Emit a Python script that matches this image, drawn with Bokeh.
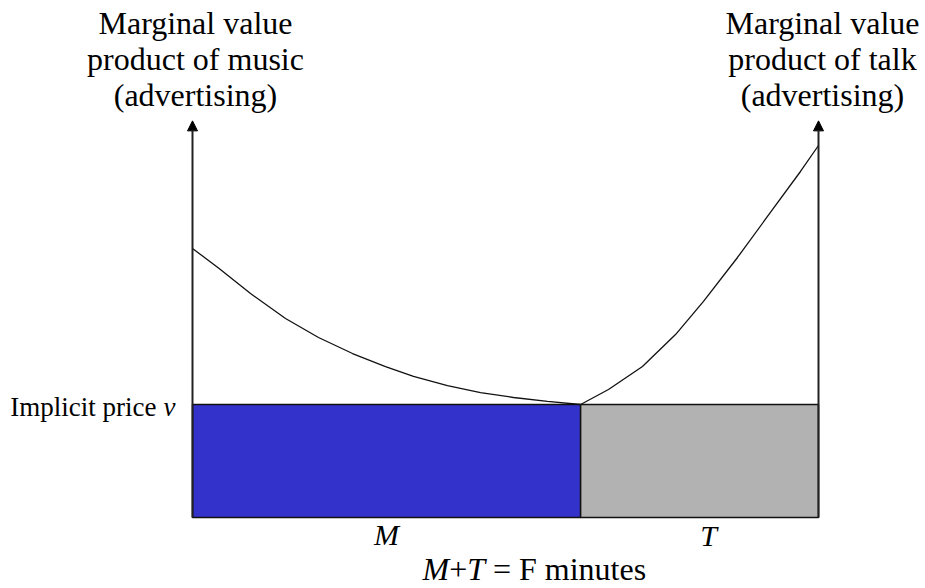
from bokeh.plotting import figure
from bokeh.models import Range1d, Arrow, NormalHead, Label
from bokeh.embed import file_html
from bokeh.resources import INLINE

# ---- data (abstract units: minutes on x, value on y) ----
F_TOTAL = 10.0          # M + T = F minutes
M_MUSIC = 6.2           # minutes of music
V_PRICE = 1.0           # implicit price v
AXIS_TOP = 3.51         # height of the value axes

music_x = [0.0, 0.415, 0.927, 1.486, 2.013, 2.556, 3.083, 3.530, 4.073, 4.601, 5.128, 5.671, 6.2]
music_y = [2.381, 2.208, 1.982, 1.761, 1.593, 1.451, 1.336, 1.248, 1.168, 1.106, 1.062, 1.027, 1.0]

talk_x = [6.2, 6.645, 7.188, 7.716, 8.163, 8.706, 9.185, 9.712, 10.0]
talk_y = [1.0, 1.133, 1.336, 1.619, 1.912, 2.301, 2.664, 3.062, 3.292]

left_title = ["Marginal value", "product of music", "(advertising)"]
right_title = ["Marginal value", "product of talk", "(advertising)"]

W, H = 925, 588
X0_PX, XSCALE = 192.0, 62.6
Y0_PX, YSCALE = 517.0, 113.0

def dx(px):
    return (px - X0_PX) / XSCALE

def dy(py):
    return (Y0_PX - py) / YSCALE

p = figure(width=W, height=H, output_backend="svg", toolbar_location=None,
           x_axis_type=None, y_axis_type=None,
           x_range=Range1d(dx(0), dx(W)), y_range=Range1d(dy(H), dy(0)),
           min_border=0, outline_line_color=None, background_fill_color="white")
p.min_border_left = p.min_border_right = p.min_border_top = p.min_border_bottom = 0
p.xgrid.visible = False
p.ygrid.visible = False

BLACK = "#111111"
SERIF = "Liberation Serif"

# bars
p.quad(left=[0], right=[M_MUSIC], bottom=[0], top=[V_PRICE],
       fill_color="#3333CC", line_color=BLACK, line_width=1.5)
p.quad(left=[M_MUSIC], right=[F_TOTAL], bottom=[0], top=[V_PRICE],
       fill_color="#B2B2B2", line_color=BLACK, line_width=1.5)

# curves
p.line(music_x, music_y, line_color=BLACK, line_width=1.3, line_join="round")
p.line(talk_x, talk_y, line_color=BLACK, line_width=1.3, line_join="round")

# axes with arrows
for xa in (0.0, F_TOTAL):
    p.add_layout(Arrow(end=NormalHead(size=10, fill_color="black", line_color="black", line_width=1),
                       x_start=xa, y_start=0, x_end=xa, y_end=AXIS_TOP,
                       line_color="#222222", line_width=2))

def lab(text, px, py, size, align="center", style="normal"):
    # py is the wanted baseline (pixels from top); compensate renderer offset
    p.add_layout(Label(x=dx(px), y=dy(py - 0.38 * size), text=text, text_font=SERIF,
                       text_font_size=f"{size}px", text_align=align,
                       text_baseline="alphabetic", text_font_style=style,
                       text_color="black"))

# titles
for i, (lt, rt) in enumerate(zip(left_title, right_title)):
    base = 34.5 + i * 36.3
    lab(lt, 195, base, 32)
    lab(rt, 822, base, 32)

# implicit price
lab("Implicit price", 156, 416.5, 27, align="right")
lab("v", 163, 416.5, 27, align="left", style="italic")

# segment labels
lab("M", 386, 545.5, 30, style="italic")
lab("T", 708, 546, 30, style="italic")

# M+T = F minutes
fs = 32
adv = {"M": 0.833, "+": 0.564, "T": 0.556}
x = 422.0
for piece, style in (("M", "italic"), ("+", "normal"), ("T", "italic")):
    lab(piece, x, 581, fs, align="left", style=style)
    x += adv[piece] * fs
x += 0.25 * fs
lab("= F minutes", x, 581, fs, align="left")

open("out.html", "w").write(file_html(p, INLINE))
